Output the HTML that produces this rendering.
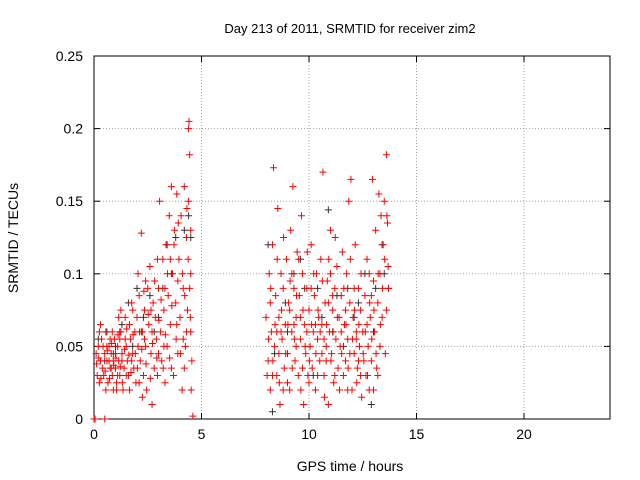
<!DOCTYPE html>
<html><head><meta charset="utf-8"><style>
body{margin:0;background:#fff;}
svg{display:block;font-family:"Liberation Sans",sans-serif;}
</style></head><body>
<svg id="chart" width="640" height="480">
<rect width="640" height="480" fill="#fff"/>
<text x="350" y="33" font-size="13" text-anchor="middle">Day 213 of 2011, SRMTID for receiver zim2</text>
<text x="350" y="471" font-size="14" text-anchor="middle">GPS time / hours</text>
<text transform="translate(18,238) rotate(-90)" font-size="14" text-anchor="middle">SRMTID / TECUs</text>
<g id="grid"></g><g id="axes"></g><g id="marks"></g>
</svg>
<script>
const xTicks=[0,5,10,15,20];
const yTicks=[0,0.05,0.1,0.15,0.2,0.25];
const yTickLabels=["0","0.05","0.1","0.15","0.2","0.25"];
const redT=[0,0.05,0.5,0.1,0.15,0.2,0.25,0.3,0.35,0.4,0.45,0.5,0.55,0.6,0.65,0.7,0.75,0.8,0.85,0.9,0.95,1.0,1.05,1.1,1.15,1.2,1.25,1.3,1.35,1.4,1.45,1.5,1.55,1.6,1.65,1.7,1.75,1.8,1.85,1.9,1.95,2.0,2.05,2.1,2.15,2.2,2.25,2.3,2.35,2.4,2.45,2.5,2.55,2.6,2.65,2.7,2.75,2.8,2.85,2.9,2.95,3.0,3.05,3.1,3.15,3.2,3.25,3.3,3.35,3.4,3.45,3.5,3.55,3.6,3.65,3.7,3.75,3.8,3.85,3.9,3.95,4.0,4.05,4.1,4.15,4.2,4.25,4.3,4.35,4.4,4.42,4.45,4.5,4.55,4.6,4.4,4.5,4.3,0.3,0.6,0.9,1.2,1.5,1.8,2.1,2.4,2.7,3.0,3.3,3.6,3.9,4.2,4.5,1.0,1.3,0.8,1.1,0.7,
8.0,8.1,8.15,8.2,8.25,8.3,8.35,8.4,8.45,8.5,8.55,8.6,8.65,8.7,8.75,8.8,8.85,8.9,8.95,9.0,9.05,9.1,9.15,9.2,9.25,9.3,9.35,9.4,9.45,9.5,9.55,9.6,9.65,9.7,9.75,9.8,9.85,9.9,9.95,10.0,10.05,10.1,10.15,10.2,10.25,10.3,10.35,10.4,10.45,10.5,10.55,10.6,10.65,10.7,10.75,10.8,10.85,10.9,10.95,11.0,11.05,11.1,11.15,11.2,11.25,11.3,11.35,11.4,11.45,11.5,11.55,11.6,11.65,11.7,11.75,11.8,11.85,11.9,11.95,12.0,12.05,12.1,12.15,12.2,12.25,12.3,12.35,12.4,12.45,12.5,12.55,12.6,12.65,12.7,12.75,12.8,12.85,12.9,12.95,13.0,13.05,13.1,13.15,13.2,13.25,13.3,13.35,13.4,13.45,13.5,13.55,13.6,13.65,13.7,8.2,8.5,8.8,9.1,9.4,9.7,10.0,10.3,10.6,10.9,11.2,11.5,11.8,12.1,12.4,12.7,13.0,13.3,9.2,10.1,11.0,11.9,12.8,13.6,8.6,9.9,10.7,12.2];
const redV=[0,0,0,0.045,0.03,0.05,0.025,0.04,0.055,0.035,0.03,0.045,0.06,0.04,0.025,0.05,0.035,0.045,0.03,0.04,0.055,0.035,0.025,0.05,0.04,0.03,0.06,0.045,0.02,0.035,0.07,0.05,0.04,0.03,0.065,0.055,0.08,0.045,0.035,0.06,0.025,0.07,0.05,0.085,0.04,0.128,0.06,0.03,0.075,0.05,0.02,0.09,0.065,0.105,0.045,0.01,0.08,0.035,0.07,0.055,0.03,0.09,0.15,0.06,0.04,0.11,0.075,0.025,0.12,0.05,0.085,0.14,0.065,0.16,0.1,0.03,0.13,0.08,0.155,0.045,0.11,0.07,0.14,0.02,0.09,0.16,0.05,0.125,0.075,0.2,0.205,0.182,0.1,0.04,0.002,0.15,0.13,0.06,0.065,0.05,0.02,0.055,0.03,0.075,0.025,0.095,0.06,0.045,0.09,0.035,0.095,0.035,0.06,0.045,0.04,0.035,0.03,0.04,
0.07,0.04,0.1,0.02,0.06,0.12,0.173,0.05,0.085,0.03,0.145,0.07,0.01,0.1,0.055,0.09,0.035,0.065,0.11,0.045,0.08,0.02,0.13,0.06,0.16,0.09,0.04,0.07,0.115,0.03,0.085,0.055,0.14,0.1,0.01,0.065,0.045,0.09,0.03,0.075,0.05,0.12,0.035,0.06,0.085,0.02,0.1,0.055,0.07,0.04,0.11,0.065,0.17,0.03,0.08,0.05,0.095,0.01,0.06,0.13,0.045,0.075,0.025,0.09,0.055,0.105,0.035,0.07,0.05,0.085,0.115,0.03,0.065,0.04,0.1,0.055,0.15,0.08,0.165,0.02,0.07,0.045,0.12,0.06,0.035,0.09,0.05,0.075,0.015,0.06,0.04,0.085,0.03,0.11,0.05,0.02,0.07,0.04,0.165,0.095,0.06,0.13,0.035,0.08,0.155,0.1,0.14,0.07,0.12,0.15,0.045,0.182,0.135,0.09,0.08,0.06,0.02,0.075,0.05,0.035,0.025,0.065,0.045,0.08,0.03,0.06,0.02,0.09,0.03,0.065,0.02,0.05,0.1,0.09,0.1,0.045,0.1,0.075,0.045,0.06,0.055,0.055];
const redExtraT=[0.12,0.22,0.32,0.42,0.52,0.62,0.72,0.82,0.92,1.02,1.12,1.22,1.32,1.42,1.52,1.62,1.72,1.82,1.92,2.02,2.12,2.22,2.32,2.42,2.52,2.62,2.72,2.82,2.92,3.02,3.12,3.22,3.32,3.42,3.52,3.62,3.72,3.82,3.92,4.02,4.12,4.22,4.32,4.38,4.48,4.52,0.25,0.55,0.85,1.15,1.45,1.75,2.05,2.35,2.65,2.95,3.25,3.55,3.85,4.15,4.45,1.05,0.75,1.25,1.65,2.25,
8.05,8.12,8.22,8.32,8.42,8.52,8.62,8.72,8.82,8.92,9.02,9.12,9.22,9.32,9.42,9.52,9.62,9.72,9.82,9.92,10.02,10.12,10.22,10.32,10.42,10.52,10.62,10.72,10.82,10.92,11.02,11.12,11.22,11.32,11.42,11.52,11.62,11.72,11.82,11.92,12.02,12.12,12.22,12.32,12.42,12.52,12.62,12.72,12.82,12.92,13.02,13.12,13.22,13.32,13.42,13.52,13.62,13.68,8.3,9.0,9.6,10.4,11.1,11.7,12.3,12.9,13.2,10.8,9.3,8.7];
const redExtraV=[0.038,0.042,0.028,0.05,0.033,0.047,0.028,0.052,0.037,0.042,0.058,0.036,0.025,0.048,0.062,0.044,0.032,0.058,0.045,0.035,0.06,0.048,0.088,0.038,0.072,0.028,0.052,0.095,0.042,0.068,0.082,0.035,0.058,0.1,0.042,0.078,0.12,0.055,0.135,0.045,0.1,0.085,0.145,0.11,0.07,0.02,0.06,0.02,0.06,0.07,0.055,0.04,0.1,0.055,0.075,0.11,0.05,0.11,0.065,0.055,0.09,0.02,0.055,0.075,0.02,0.015,
0.03,0.055,0.09,0.04,0.065,0.11,0.025,0.075,0.125,0.045,0.065,0.095,0.035,0.055,0.085,0.11,0.02,0.075,0.05,0.115,0.04,0.065,0.1,0.045,0.075,0.06,0.095,0.015,0.065,0.11,0.04,0.06,0.125,0.07,0.02,0.045,0.09,0.065,0.035,0.11,0.055,0.075,0.025,0.065,0.1,0.045,0.06,0.03,0.08,0.055,0.075,0.045,0.1,0.065,0.09,0.11,0.14,0.105,0.03,0.025,0.07,0.03,0.085,0.075,0.04,0.085,0.03,0.04,0.065,0.06];
const blackT=[0.2,0.6,1.0,1.3,1.6,2.0,2.3,2.6,3.0,3.4,3.8,4.2,4.5,0.9,1.8,3.2,0.5,1.2,2.2,2.8,3.6,4.4,8.1,8.4,8.9,9.3,9.8,10.4,10.9,11.3,11.8,12.3,12.6,13.0,13.4,13.7,8.3,12.9,10.2,11.6,9.0,9.6,10.6,11.1,12.1,13.1,13.5];
const blackV=[0.055,0.06,0.05,0.065,0.08,0.09,0.07,0.085,0.07,0.12,0.125,0.13,0.125,0.045,0.05,0.09,0.04,0.06,0.06,0.06,0.1,0.14,0.12,0.045,0.08,0.1,0.09,0.09,0.144,0.085,0.09,0.08,0.1,0.06,0.12,0.09,0.005,0.01,0.03,0.05,0.06,0.11,0.07,0.06,0.07,0.09,0.1];
const X0=94,X1=610,Y0=419,Y1=56;
const xs=v=>X0+(v/24)*(X1-X0);
const ys=v=>Y0-(v/0.25)*(Y0-Y1);
const NS="http://www.w3.org/2000/svg";
function mk(tag,attrs,parent){const e=document.createElementNS(NS,tag);for(const k in attrs)e.setAttribute(k,attrs[k]);parent.appendChild(e);return e;}
const grid=document.getElementById('grid'),axes=document.getElementById('axes'),marks=document.getElementById('marks');
xTicks.forEach((t,i)=>{
  const x=xs(t);
  if(t>0){const g=mk('line',{x1:x,x2:x,y1:Y1,y2:Y0,stroke:'#a0a0a0','stroke-dasharray':'1,2'},grid);
  
  }
  mk('line',{x1:x,x2:x,y1:Y0,y2:Y0-6,stroke:'#000'},axes);
  mk('line',{x1:x,x2:x,y1:Y1,y2:Y1+6,stroke:'#000'},axes);
  const l=mk('text',{x:x,y:Y0+20,'font-size':14,'text-anchor':'middle'},axes);l.textContent=t;
  
  
});
yTicks.forEach((t,i)=>{
  const y=ys(t);
  if(i>0&&i<yTicks.length-1){const g=mk('line',{x1:X0,x2:X1,y1:y,y2:y,stroke:'#a0a0a0','stroke-dasharray':'1,2'},grid);
  
  }
  mk('line',{x1:X0,x2:X0+6,y1:y,y2:y,stroke:'#000'},axes);
  mk('line',{x1:X1,x2:X1-6,y1:y,y2:y,stroke:'#000'},axes);
  const l=mk('text',{x:X0-11,y:y+5,'font-size':14,'text-anchor':'end'},axes);l.textContent=yTickLabels[i];
  
  
});
const b=mk('rect',{x:X0,y:Y1,width:X1-X0,height:Y0-Y1,fill:'none',stroke:'#000'},axes);


function plus(t,v,c,name){
  const x=xs(t),y=ys(v);
  const p=mk('path',{d:`M${x-3.5},${y}H${x+3.5}M${x},${y-3.5}V${y+3.5}`,stroke:c,'stroke-width':1,fill:'none'},marks);
  
  
}
blackT.forEach((t,i)=>plus(t,blackV[i],'#333','black-point'));
redT.forEach((t,i)=>plus(t,redV[i],'#ff0000','red-point'));
redExtraT.forEach((t,i)=>plus(t,redExtraV[i],'#ff0000','red-point'));
</script>
</body></html>
